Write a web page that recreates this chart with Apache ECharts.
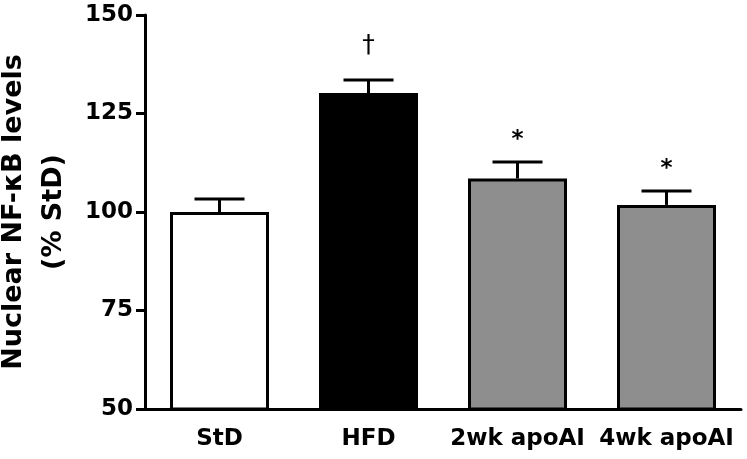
<!DOCTYPE html>
<html>
<head>
<meta charset="utf-8">
<script src="https://cdn.jsdelivr.net/npm/echarts@6/dist/echarts.min.js"></script>
<style>
html,body{margin:0;padding:0;background:#fff;}
#chart{width:747px;height:459px;}
</style>
</head>
<body>
<div id="chart"></div>
<script>
var categories = ['StD', 'HFD', '2wk apoAI', '4wk apoAI'];
var means = [100, 130.2, 108.5, 101.8];
var sems = [3.3, 3.3, 4.2, 3.5];
var marks = ['', '\u2020', '*', '*'];
var barColors = ['#ffffff', '#000000', '#8e8e8e', '#8e8e8e'];
var yTicks = [50, 75, 100, 125, 150];
var yTitle = 'Nuclear NF-\u03baB levels\n(% StD)';

var FONT = '"DejaVu Sans", Verdana, sans-serif';

var chart = echarts.init(document.getElementById('chart'), null, {renderer: 'canvas'});

var barData = means.map(function (v, i) {
  return {value: v, itemStyle: {color: barColors[i]}};
});
var errData = means.map(function (v, i) {
  return [i, v, v + sems[i]];
});

chart.setOption({
  animation: false,
  backgroundColor: '#ffffff',
  grid: {left: 145, right: 6, top: 15, bottom: 50, containLabel: false, outerBoundsMode: 'none'},
  xAxis: {
    type: 'category',
    data: categories,
    axisLine: {show: true, lineStyle: {color: '#000', width: 3}},
    axisTick: {show: false},
    axisLabel: {
      color: '#000', fontFamily: FONT, fontWeight: 'bold', fontSize: 23,
      margin: 19, interval: 0
    },
    splitLine: {show: false}
  },
  yAxis: {
    type: 'value',
    min: yTicks[0],
    max: yTicks[yTicks.length - 1],
    interval: 25,
    axisLine: {show: true, lineStyle: {color: '#000', width: 3}},
    axisTick: {show: true, inside: false, length: 9, lineStyle: {color: '#000', width: 3}},
    axisLabel: {color: '#000', fontFamily: FONT, fontWeight: 'bold', fontSize: 23, margin: 12},
    splitLine: {show: false},
    name: yTitle,
    nameLocation: 'middle',
    nameRotate: 90,
    nameGap: 70,
    nameTextStyle: {
      color: '#000', fontFamily: FONT, fontWeight: 'bold', fontSize: 27,
      lineHeight: 40, align: 'center'
    }
  },
  series: [
    {
      type: 'bar',
      data: barData,
      barWidth: 99,
      itemStyle: {borderColor: '#000', borderWidth: 3},
      z: 2
    },
    {
      type: 'custom',
      data: errData,
      z: 3,
      renderItem: function (params, api) {
        var i = api.value(0);
        var base = api.coord([i, api.value(1)]);
        var top = api.coord([i, api.value(2)]);
        var half = 25;
        var children = [
          {type: 'line', shape: {x1: base[0], y1: base[1], x2: top[0], y2: top[1]},
           style: {stroke: '#000', lineWidth: 3}},
          {type: 'line', shape: {x1: top[0] - half, y1: top[1], x2: top[0] + half, y2: top[1]},
           style: {stroke: '#000', lineWidth: 3}}
        ];
        var m = marks[params.dataIndex];
        if (m) {
          children.push({
            type: 'text',
            style: {
              text: m, x: top[0], y: top[1] - (m === '*' ? 22 : 35),
              align: 'center', verticalAlign: 'middle',
              fill: '#000', font: (m === '*' ? 'bold 23px ' : 'normal 25px ') + FONT
            }
          });
        }
        return {type: 'group', children: children};
      }
    }
  ]
});
</script>
</body>
</html>
